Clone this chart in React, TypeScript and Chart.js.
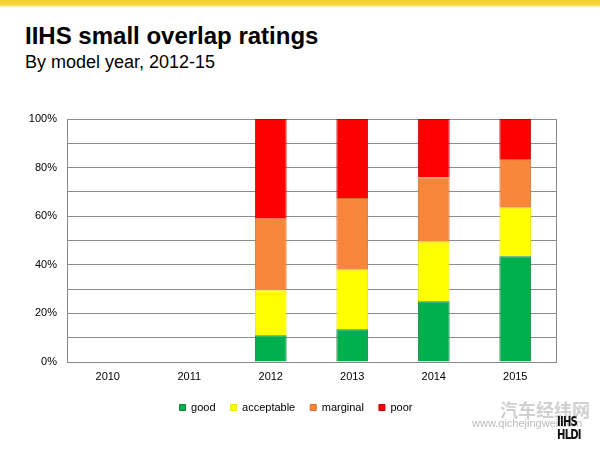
import React, { useEffect, useRef } from "react";
import { Chart, registerables } from "chart.js";

Chart.register(...registerables);

const categories = ["2010", "2011", "2012", "2013", "2014", "2015"];
const good = [null, null, 11, 13.5, 25, 43.5];
const acceptable = [null, null, 18.5, 24.5, 24.5, 20];
const marginal = [null, null, 29.5, 29.5, 26.5, 20];
const poor = [null, null, 41, 32.5, 24, 16.5];
const seriesNames = ["good", "acceptable", "marginal", "poor"];
const seriesColors = ["#00b04c", "#ffff00", "#f7853a", "#ff0000"];
const seriesBorders = ["#14803c", "#e6e600", "#d8702c", "#c00000"];

const FONT = "'Liberation Sans', Arial, Helvetica, sans-serif";

export default function App() {
  const canvasRef = useRef<HTMLCanvasElement | null>(null);

  useEffect(() => {
    const ctx = canvasRef.current;
    if (!ctx) return;
    const values = [good, acceptable, marginal, poor];
    const chart = new Chart(ctx, {
      type: "bar",
      data: {
        labels: categories,
        datasets: values.map((v, i) => ({
          label: seriesNames[i],
          data: v,
          backgroundColor: seriesColors[i],
          borderColor: seriesBorders[i],
          borderWidth: 1,
          categoryPercentage: 1,
          barPercentage: 0.39,
        })),
      },
      options: {
        animation: false,
        responsive: false,
        maintainAspectRatio: false,
        layout: { padding: { top: 19, right: 8, left: 0, bottom: 27 } },
        plugins: {
          tooltip: { enabled: false },
          legend: {
            position: "bottom",
            labels: {
              boxWidth: 6,
              boxHeight: 6,
              padding: 15,
              color: "#000",
              font: { family: FONT, size: 11 },
            },
          },
        },
        scales: {
          x: {
            stacked: true,
            grid: { display: false, drawTicks: false },
            border: { display: true, color: "#8a8a8a", width: 1 },
            ticks: { color: "#000", padding: 8, font: { family: FONT, size: 11 } },
            afterFit: (s: any) => {
              s.height = 25;
            },
          },
          y: {
            stacked: true,
            min: 0,
            max: 100,
            grid: { color: "#8c8c8c", drawTicks: false, lineWidth: 1 },
            border: { display: true, color: "#8a8a8a", width: 1 },
            ticks: {
              stepSize: 10,
              padding: 10,
              color: "#000",
              font: { family: FONT, size: 11 },
              callback: (v: any) => (Number(v) % 20 === 0 ? v + "%" : ""),
            },
            afterFit: (s: any) => {
              s.width = 67;
            },
          },
          y2: {
            position: "right",
            min: 0,
            max: 100,
            grid: { display: false, drawTicks: false },
            border: { display: true, color: "#8a8a8a", width: 1 },
            ticks: { display: false },
            afterFit: (s: any) => {
              s.width = 36;
            },
          },
        },
      },
    });
    return () => chart.destroy();
  }, []);

  return (
    <div
      style={{
        position: "absolute",
        left: 0,
        top: 0,
        width: 600,
        height: 450,
        background: "#fff",
        overflow: "hidden",
        fontFamily: FONT,
      }}
    >
      <div
        style={{
          position: "absolute",
          left: 0,
          top: 0,
          width: 600,
          height: 8,
          background: "linear-gradient(#f5cf2e 0%, #f7d84a 60%, #ffffff 100%)",
        }}
      />
      <div
        style={{
          position: "absolute",
          left: 25,
          top: 22,
          fontSize: 24,
          fontWeight: "bold",
          color: "#000",
          whiteSpace: "nowrap",
          lineHeight: "28px",
        }}
      >
        IIHS small overlap ratings
      </div>
      <div
        style={{
          position: "absolute",
          left: 25,
          top: 51,
          fontSize: 18,
          color: "#000",
          whiteSpace: "nowrap",
          lineHeight: "22px",
        }}
      >
        By model year, 2012-15
      </div>
      <canvas
        ref={canvasRef}
        width={600}
        height={350}
        style={{ position: "absolute", left: 0, top: 100, width: 600, height: 350 }}
      />
      <div
        style={{
          position: "absolute",
          left: 500,
          top: 397,
          fontSize: 18,
          fontWeight: "bold",
          color: "#d0d0d0",
          fontFamily: "'Noto Sans CJK SC', sans-serif",
          whiteSpace: "nowrap",
          lineHeight: "24px",
        }}
      >
        汽车经纬网
      </div>
      <div
        style={{
          position: "absolute",
          left: 472,
          top: 416,
          fontSize: 11,
          color: "#bcbcbc",
          whiteSpace: "nowrap",
          lineHeight: "14px",
        }}
      >
        www.qichejingwei.com
      </div>
      <div
        style={{
          position: "absolute",
          left: 557,
          top: 415,
          fontSize: 14,
          fontWeight: "bold",
          color: "#111",
          fontFamily: "'DejaVu Sans Condensed', 'Liberation Sans Narrow', sans-serif",
          lineHeight: "13px",
          letterSpacing: "-1px",
          transform: "scaleX(0.8)",
          transformOrigin: "left top",
        }}
      >
        IIHS
        <br />
        HLDI
      </div>
    </div>
  );
}
